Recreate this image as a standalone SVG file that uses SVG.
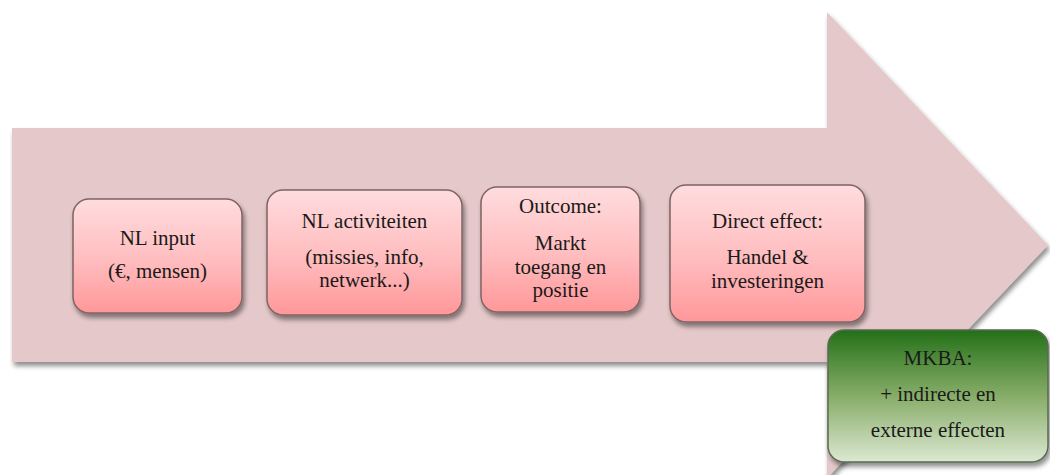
<svg xmlns="http://www.w3.org/2000/svg" width="1050" height="475" viewBox="0 0 1050 475">
  <defs>
    <linearGradient id="pinkFill" x1="0" y1="0" x2="0" y2="1">
      <stop offset="0" stop-color="#ffdcde"/>
      <stop offset="0.55" stop-color="#ffbcbe"/>
      <stop offset="1" stop-color="#ff9799"/>
    </linearGradient>
    <linearGradient id="greenFill" x1="0" y1="0" x2="0" y2="1">
      <stop offset="0" stop-color="#247019"/>
      <stop offset="0.5" stop-color="#87ad68"/>
      <stop offset="1" stop-color="#dce8d2"/>
    </linearGradient>
    <filter id="shadow" x="-10%" y="-10%" width="125%" height="130%">
      <feGaussianBlur in="SourceAlpha" stdDeviation="2.5"/>
      <feOffset dx="2" dy="4" result="b"/>
      <feComponentTransfer><feFuncA type="linear" slope="0.45"/></feComponentTransfer>
      <feMerge><feMergeNode/><feMergeNode in="SourceGraphic"/></feMerge>
    </filter>
  </defs>
  <style>
    .box { stroke: #7f6363; stroke-width: 1.5; filter: url(#shadow); }
    .pink { fill: url(#pinkFill); }
    .green { fill: url(#greenFill); stroke: #5a6a50; }
    text { font-family: 'Liberation Serif', 'DejaVu Serif', 'Times New Roman', serif; font-size: 21px; fill: #1a1a1a; text-anchor: middle; }
  </style>

  <!-- big process arrow in the background -->
  <g id="flow-arrow">
    <path d="M12 128 H827 V12 L1048 245 L827 478 V362 H12 Z" fill="#e5c9ca" filter="url(#shadow)"/>
  </g>

  <g id="node-input">
    <rect class="box pink" x="73" y="199" width="169" height="114" rx="16"/>
    <text x="157.5" y="245">NL input</text>
    <text x="157.5" y="278">(€, mensen)</text>
  </g>

  <g id="node-activiteiten">
    <rect class="box pink" x="267" y="190" width="195" height="125" rx="16"/>
    <text x="364.5" y="228">NL activiteiten</text>
    <text x="364.5" y="264">(missies, info,</text>
    <text x="364.5" y="287">netwerk...)</text>
  </g>

  <g id="node-outcome">
    <rect class="box pink" x="481" y="187" width="159" height="125" rx="16"/>
    <text x="560.5" y="213">Outcome:</text>
    <text x="560.5" y="250">Markt</text>
    <text x="560.5" y="274">toegang en</text>
    <text x="560.5" y="297">positie</text>
  </g>

  <g id="node-direct">
    <rect class="box pink" x="670" y="185" width="195" height="137" rx="16"/>
    <text x="767.5" y="228">Direct effect:</text>
    <text x="767.5" y="264">Handel &amp;</text>
    <text x="767.5" y="288">investeringen</text>
  </g>

  <g id="node-mkba">
    <rect class="box green" x="828" y="330" width="220" height="132" rx="16"/>
    <text x="938" y="365">MKBA:</text>
    <text x="938" y="401">+ indirecte en</text>
    <text x="938" y="437">externe effecten</text>
  </g>

  <g id="connectors"/>
</svg>
